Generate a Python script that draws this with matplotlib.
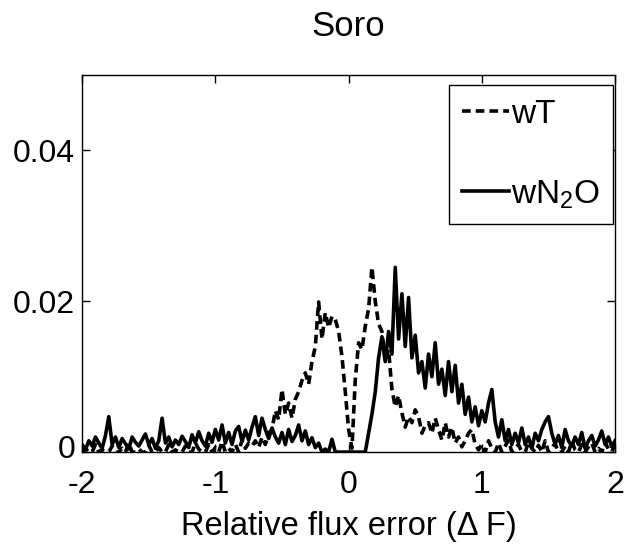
import numpy as np
import matplotlib
matplotlib.use("Agg")
import matplotlib.pyplot as plt
from matplotlib.transforms import ScaledTranslation

plt.rcParams['font.family'] = ['Liberation Sans', 'DejaVu Sans']
plt.rcParams['mathtext.fontset'] = 'custom'
plt.rcParams['mathtext.rm'] = 'Liberation Sans'

# bin centres of the relative flux error histogram
x = np.arange(161) * 0.025 - 2.0

# frequencies (x 1e-3)
w_t = [0.0, 0.5, 0.0, 0.0, 1.0, 0.0, 0.3, 0.0, 0.0, 0.8,
       0.0, 0.0, 0.5, 0.0, 1.2, 0.0, 0.0, 0.4, 0.0, 0.0,
       0.9, 0.0, 0.0, 0.6, 0.0, 0.0, 1.0, 0.0, 0.3, 0.0,
       0.0, 0.8, 0.0, 0.0, 1.2, 0.4, 0.0, 0.0, 1.0, 0.0,
       0.6, 0.0, 1.4, 0.0, 0.5, 0.0, 1.0, 0.0, 1.6, 0.5,
       1.2, 0.8, 1.5, 0.6, 2.0, 1.0, 2.5, 3.0, 5.5, 4.3,
       8.3, 5.0, 6.5, 4.5, 7.0, 8.0, 9.5, 10.5, 9.0, 12.0,
       14.0, 19.9, 15.0, 18.5, 16.5, 18.0, 17.6, 16.0, 12.7, 8.0,
       3.0, 0.5, 9.6, 14.5, 13.6, 16.7, 19.0, 24.5, 20.0, 17.0,
       16.0, 12.0, 13.6, 8.3, 6.0, 7.5, 5.2, 3.3, 4.7, 3.9,
       5.6, 4.7, 2.5, 3.5, 3.9, 2.5, 4.5, 3.0, 1.6, 3.9,
       2.0, 3.3, 1.2, 2.0, 0.7, 1.5, 2.5, 3.0, 1.0, 0.3,
       1.0, 0.0, 1.5, 0.5, 0.0, 1.2, 0.0, 0.8, 1.6, 0.0,
       0.4, 1.0, 0.0, 0.0, 1.3, 0.5, 0.0, 0.9, 0.0, 1.5,
       0.0, 0.6, 1.1, 0.0, 0.0, 0.8, 0.0, 1.4, 0.3, 0.0,
       1.0, 0.0, 0.7, 1.2, 0.0, 0.5, 0.0, 1.3, 0.4, 0.0,
       1.0]

w_n2o = [1.0, 0.3, 1.5, 0.8, 2.0, 1.2, 0.5, 2.2, 4.7, 1.0,
         2.0, 0.6, 1.8, 1.1, 0.4, 2.0, 1.3, 0.8, 1.6, 2.4,
         1.0, 1.8, 0.5, 1.5, 4.5, 1.2, 2.0, 0.7, 1.6, 1.0,
         2.1, 1.4, 0.6, 2.3, 1.2, 2.7, 1.5, 0.8, 2.5, 1.3,
         3.0, 1.6, 3.6, 1.2, 2.6, 1.0, 2.8, 3.4, 1.4, 2.9,
         1.6, 3.3, 4.7, 2.2, 4.5, 3.0, 1.8, 3.2, 2.0, 1.2,
         2.6, 1.0, 3.0, 1.4, 2.2, 3.6, 1.5, 2.8, 1.0, 1.9,
         0.6, 1.2, 0.0, 0.4, 0.0, 1.7, 0.0, 0.0, 0.0, 0.0,
         0.0, 0.0, 0.0, 0.0, 0.0, 0.0, 2.5, 5.0, 8.0, 12.5,
         15.3, 12.0, 16.0, 13.0, 24.5, 15.0, 21.0, 14.0, 20.5, 12.5,
         15.5, 10.5, 12.0, 8.5, 13.0, 10.0, 14.5, 9.0, 11.0, 7.5,
         12.0, 8.0, 11.5, 6.5, 9.0, 5.0, 7.3, 4.0, 6.0, 3.5,
         5.5, 4.0, 6.5, 8.3, 4.0, 2.0, 4.3, 1.5, 3.0, 1.0,
         2.5, 1.2, 3.2, 1.0, 2.0, 0.5, 2.5, 1.5, 3.0, 4.0,
         4.7, 2.5, 1.0, 2.2, 0.6, 3.0, 1.5, 0.8, 2.0, 1.0,
         2.6, 0.5, 1.5, 2.2, 0.8, 1.6, 2.8, 1.0, 2.0, 0.7,
         1.5]

x_ticks = [-2, -1, 0, 1, 2]
y_ticks = [0, 0.02, 0.04]
y_tick_labels = ['0', '0.02', '0.04']

fig = plt.figure(figsize=(6.27, 5.52), dpi=100)
ax = fig.add_axes([0.131, 0.181, 0.850, 0.683])

ax.plot(x, np.array(w_t) * 1e-3, color='black', lw=2.6, linestyle=(0, (2.4, 1.4)), label='wT')
ax.plot(x, np.array(w_n2o) * 1e-3, color='black', lw=2.6, linestyle='-', label='wN$_2$O')

ax.set_xlim(-2, 2)
ax.set_ylim(0, 0.05)
ax.set_xticks(x_ticks)
ax.set_xticklabels([str(t) for t in x_ticks])
ax.set_yticks(y_ticks)
ax.set_yticklabels(y_tick_labels)
ax.tick_params(direction='in', length=6, width=1, top=True, right=True,
               labelsize=23)
ax.tick_params(axis='x', pad=13)
ax.tick_params(axis='y', pad=5)
for s in ax.spines.values():
    s.set_linewidth(1)

# the "0" on the y axis sits a bit above the axis line, like the original
lab0 = ax.get_yticklabels()[0]
lab0.set_transform(lab0.get_transform() + ScaledTranslation(0, 6 / 100, fig.dpi_scale_trans))

ax.set_xlabel('Relative flux error (Δ F)', fontsize=23.5, labelpad=8)
ax.set_title('Soro', fontsize=25, pad=28)

leg = ax.legend(loc='upper right', bbox_to_anchor=(0.996, 0.973),
                fontsize=24, frameon=True, fancybox=False,
                edgecolor='black', framealpha=1, handlelength=1.4,
                handletextpad=0.05, borderpad=0.4, labelspacing=1.45,
                borderaxespad=0)
leg.get_frame().set_linewidth(1)

fig.savefig('out.png', dpi=100)
